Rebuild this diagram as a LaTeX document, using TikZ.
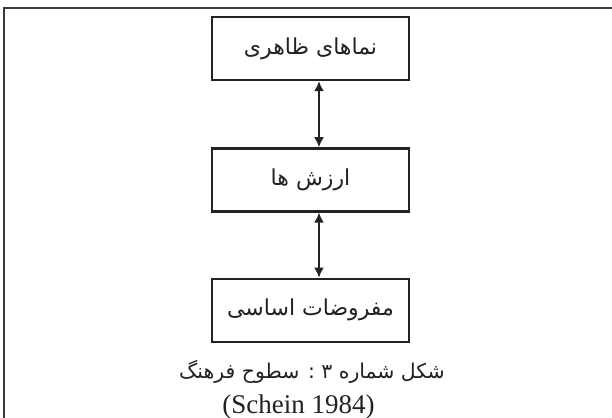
\documentclass[tikz,border=0pt]{standalone}
\usepackage{fontspec}
\setmainfont{Liberation Serif}
\newfontfamily\persianfont[Script=Arabic]{DejaVu Sans}
\TeXXeTstate=1
\usetikzlibrary{arrows.meta,positioning}
\definecolor{ink}{HTML}{222222}
\definecolor{framegray}{HTML}{3A3A3A}
\tikzset{
  level/.style={draw=ink, line width=1.2pt, minimum width=98.5pt, minimum height=31.5pt,
    inner sep=0pt, font=\persianfont\fontsize{11}{13}\selectfont, text=ink},
  link/.style={{Latex[length=5pt,width=5pt]}-{Latex[length=5pt,width=5pt]},
    line width=0.9pt, draw=ink},
  capfa/.style={font=\persianfont\fontsize{10.2}{12}\selectfont, text=ink, inner sep=0pt},
  caplat/.style={font=\fontsize{13.5}{16}\selectfont, text=ink, inner sep=0pt},
}

\begin{document}
\begin{tikzpicture}[x=0.5pt, y=-0.5pt]

% page and the cut-off outer frame of the scan
\useasboundingbox (0,0) rectangle (612,418);
\clip (0,0) rectangle (612,418);
\fill[white] (0,0) rectangle (612,418);
\draw[framegray, line width=0.7pt] (4,8) rectangle (640,440);

% the three levels, top to bottom
\node[level] (surface) at (310.5,48.5) {\beginR نماهای ظاهری\endR};
\node[level, below=33pt of surface] (values) {\beginR ارزش ها\endR};
\node[level, below=32.5pt of values] (assume) {\beginR مفروضات اساسی\endR};

\draw[link] ([xshift=4.25pt]surface.south) -- ([xshift=4.25pt]values.north);
\draw[link] ([xshift=4.25pt]values.south) -- ([xshift=4.25pt]assume.north);

% caption
\node[capfa] (cap) at (312,372) {\beginR شکل شماره ۳ : سطوح فرهنگ\endR};
\node[caplat] (src) at (298.5,407) {(Schein 1984)};

\end{tikzpicture}
\end{document}
